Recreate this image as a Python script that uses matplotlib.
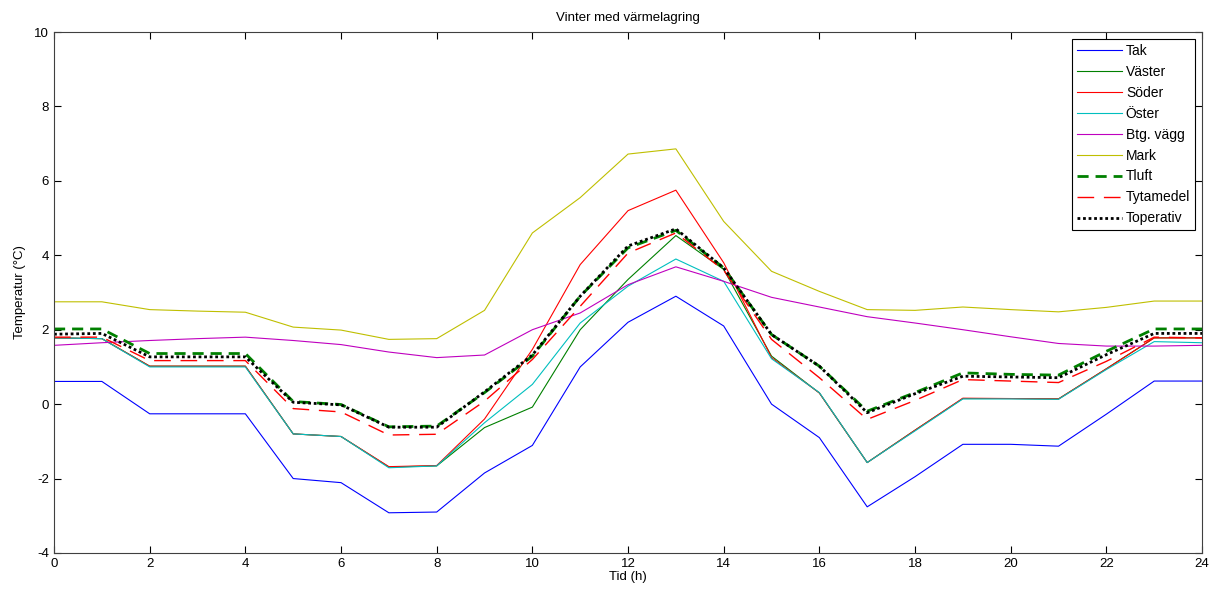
import numpy as np
import matplotlib.pyplot as plt

plt.rcParams['font.family'] = ['Liberation Sans', 'DejaVu Sans']
plt.rcParams['axes.unicode_minus'] = False

# data (hour 0..24)
tid = np.arange(0, 25)
tak = [0.61, 0.61, -0.26, -0.26, -0.26, -2.0, -2.11, -2.92, -2.9, -1.85, -1.11, 1.0, 2.2,
       2.9, 2.1, 0.0, -0.9, -2.76, -1.95, -1.08, -1.08, -1.13, -0.27, 0.62, 0.62]
vaster = [1.78, 1.76, 1.02, 1.02, 1.02, -0.8, -0.87, -1.69, -1.66, -0.63, -0.08, 2.0, 3.35,
          4.53, 3.62, 1.29, 0.3, -1.57, -0.7, 0.15, 0.15, 0.14, 0.95, 1.78, 1.78]
soder = [1.78, 1.76, 1.02, 1.02, 1.02, -0.8, -0.87, -1.68, -1.65, -0.4, 1.47, 3.75, 5.2,
         5.75, 3.8, 1.25, 0.3, -1.57, -0.7, 0.16, 0.15, 0.14, 0.95, 1.78, 1.78]
oster = [1.78, 1.76, 1.0, 1.0, 1.0, -0.8, -0.87, -1.71, -1.66, -0.5, 0.53, 2.18, 3.17,
         3.9, 3.3, 1.22, 0.31, -1.57, -0.72, 0.14, 0.14, 0.13, 0.93, 1.68, 1.65]
btg_vagg = [1.58, 1.65, 1.71, 1.76, 1.8, 1.71, 1.6, 1.4, 1.25, 1.32, 2.0, 2.45, 3.21,
            3.69, 3.3, 2.87, 2.61, 2.35, 2.18, 2.0, 1.81, 1.63, 1.56, 1.56, 1.58]
mark = [2.75, 2.75, 2.54, 2.5, 2.47, 2.07, 1.99, 1.74, 1.76, 2.52, 4.6, 5.55, 6.72,
        6.86, 4.91, 3.57, 3.03, 2.54, 2.52, 2.61, 2.54, 2.48, 2.6, 2.77, 2.77]
tluft = [2.02, 2.02, 1.36, 1.36, 1.36, 0.07, -0.01, -0.61, -0.59, 0.31, 1.29, 2.9, 4.2,
         4.67, 3.66, 1.87, 1.02, -0.19, 0.31, 0.84, 0.8, 0.78, 1.42, 2.02, 2.02]
tytamedel = [1.8, 1.8, 1.17, 1.17, 1.17, -0.12, -0.21, -0.83, -0.81, 0.08, 1.2, 2.63, 4.06,
             4.6, 3.6, 1.74, 0.71, -0.41, 0.1, 0.66, 0.62, 0.58, 1.15, 1.8, 1.78]
toperativ = [1.88, 1.9, 1.27, 1.27, 1.27, 0.05, -0.02, -0.62, -0.62, 0.33, 1.32, 2.9, 4.25,
             4.71, 3.66, 1.87, 1.02, -0.23, 0.28, 0.75, 0.73, 0.71, 1.33, 1.9, 1.9]

fig = plt.figure(figsize=(12.17, 5.93), dpi=100)
ax = fig.add_axes([0.0444, 0.0675, 0.9433, 0.8785])

ax.plot(tid, tak, color=(0, 0, 1), lw=0.8, label='Tak')
ax.plot(tid, vaster, color=(0, 0.5, 0), lw=0.8, label='Väster')
ax.plot(tid, soder, color=(1, 0, 0), lw=0.8, label='Söder')
ax.plot(tid, oster, color=(0, 0.75, 0.75), lw=0.8, label='Öster')
ax.plot(tid, btg_vagg, color=(0.75, 0, 0.75), lw=0.8, label='Btg. vägg')
ax.plot(tid, mark, color=(0.75, 0.75, 0), lw=0.8, label='Mark')
ax.plot(tid, tluft, color=(0, 0.5, 0), lw=2, dashes=(4, 2.5), label='Tluft')
ax.plot(tid, tytamedel, color=(1, 0, 0), lw=1, dashes=(12, 7), label='Tytamedel')
ax.plot(tid, toperativ, color='k', lw=2, dashes=(1, 1), label='Toperativ')

ax.set_xlim(0, 24)
ax.set_ylim(-4, 10)
ax.set_xticks(np.arange(0, 25, 2))
ax.set_yticks(np.arange(-4, 11, 2))
ax.tick_params(direction='in', top=True, right=True, labelsize=9.5, length=5, width=0.8)
for s in ax.spines.values():
    s.set_color('#404040')

ax.set_title('Vinter med värmelagring', fontsize=9.5, pad=8)
ax.set_xlabel('Tid (h)', fontsize=9.5, labelpad=1)
ax.set_ylabel('Temperatur (°C)', fontsize=9.5, labelpad=6)

leg = ax.legend(loc='upper right', fontsize=10, handlelength=3.2, fancybox=False,
                framealpha=1, edgecolor='k', borderaxespad=0.5, labelspacing=0.5,
                handletextpad=0.3, borderpad=0.35)
leg.get_frame().set_linewidth(0.8)

fig.savefig('out.png', dpi=100, facecolor='white')
